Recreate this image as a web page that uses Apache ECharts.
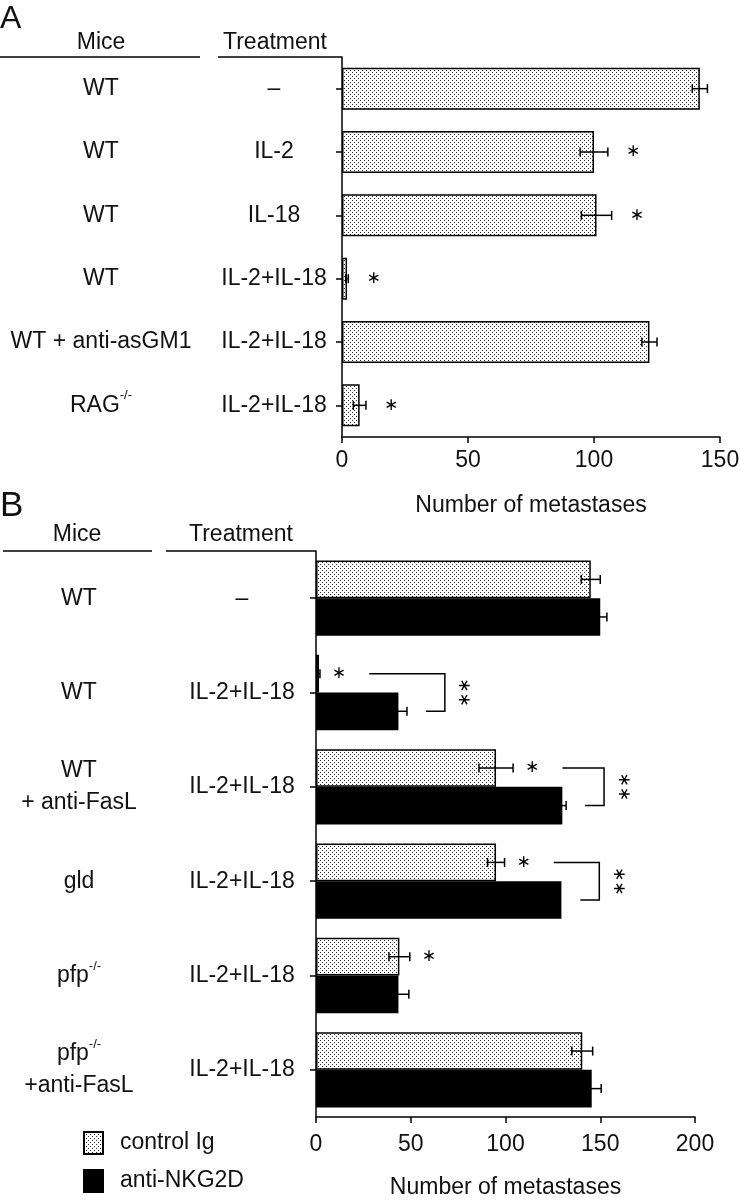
<!DOCTYPE html>
<html>
<head>
<meta charset="utf-8">
<script src="https://cdn.jsdelivr.net/npm/echarts@6/dist/echarts.min.js"></script>
<style>
html, body { margin: 0; padding: 0; background: #fff; }
#chart { width: 740px; height: 1200px; }
</style>
</head>
<body>
<div id="chart"></div>
<script>
// panel A
var miceA = ['WT', 'WT', 'WT', 'WT', 'WT + anti-asGM1', 'RAG{sup|-/-}'];
var treatA = ['\u2013', 'IL-2', 'IL-18', 'IL-2+IL-18', 'IL-2+IL-18', 'IL-2+IL-18'];
var metA = [142, 100, 101, 2, 122, 7];
var semA = [3, 5.5, 6, 0.5, 3, 2.5];
var starA = [0, 1, 1, 1, 0, 1];
var ticksA = [0, 50, 100, 150];

// panel B
var miceB = ['WT', 'WT', 'WT\n+ anti-FasL', 'gld', 'pfp{sup|-/-}', 'pfp{sup|-/-}\n+anti-FasL'];
var treatB = ['\u2013', 'IL-2+IL-18', 'IL-2+IL-18', 'IL-2+IL-18', 'IL-2+IL-18', 'IL-2+IL-18'];
var ctrlB = [145, 1.6, 95, 95, 44, 140.5];
var ctrlSemB = [5, 0.5, 9, 4.5, 5.5, 5.5];
var nkgB = [150, 43.5, 130, 129.5, 43.5, 145.5];
var nkgSemB = [3.5, 4.5, 2, 0, 5.5, 5];
var starB = [0, 1, 1, 1, 1, 0];
var pairB = [0, 1, 1, 1, 0, 0];
var ticksB = [0, 50, 100, 150, 200];

var FONT = '"Liberation Sans", Arial, sans-serif';
var INK = '#111';

// stipple fill
var dots = document.createElement('canvas');
dots.width = 4;
dots.height = 4;
var dc = dots.getContext('2d');
dc.fillStyle = '#fff';
dc.fillRect(0, 0, 4, 4);
dc.fillStyle = '#2a2a2a';
dc.fillRect(0, 0, 1, 1);
dc.fillRect(2, 2, 1, 1);
var stipple = { image: dots, repeat: 'repeat' };

var BAND_OFF = 0.199; // half bar width / band, panel B

function errRows(vals, sems) {
    var out = [];
    vals.forEach(function (v, i) {
        if (sems[i] > 0) out.push([v - sems[i], i, v + sems[i]]);
    });
    return out;
}

function starRows(vals, sems, flags) {
    var out = [];
    vals.forEach(function (v, i) {
        if (flags[i]) out.push([v + sems[i] + 10, i]);
    });
    return out;
}

function pairRows() {
    var out = [];
    pairB.forEach(function (f, i) {
        if (!f) return;
        var topStart = ctrlB[i] + ctrlSemB[i] + 26;
        var botStart = nkgB[i] + nkgSemB[i] + 10;
        var vert = Math.max(topStart, botStart) + 10;
        out.push([topStart, i, botStart, vert, vert + 10]);
    });
    return out;
}

function errorItem(frac) {
    return function (params, api) {
        var cat = api.value(1);
        var p1 = api.coord([api.value(0), cat]);
        var p2 = api.coord([api.value(2), cat]);
        var y = p1[1] + api.size([0, 1])[1] * frac;
        var h = 4.5;
        var st = { stroke: '#000', lineWidth: 1.5 };
        return {
            type: 'group',
            children: [
                { type: 'line', shape: { x1: p1[0], y1: y, x2: p2[0], y2: y }, style: st },
                { type: 'line', shape: { x1: p1[0], y1: y - h, x2: p1[0], y2: y + h }, style: st },
                { type: 'line', shape: { x1: p2[0], y1: y - h, x2: p2[0], y2: y + h }, style: st }
            ]
        };
    };
}

function starItem(frac) {
    return function (params, api) {
        var p = api.coord([api.value(0), api.value(1)]);
        return {
            type: 'text',
            x: p[0],
            y: p[1] + api.size([0, 1])[1] * frac,
            style: {
                text: '\u2217', fill: '#000', fontSize: 17,
                fontFamily: '"DejaVu Sans"', align: 'center', verticalAlign: 'middle'
            }
        };
    };
}

function pairItem(params, api) {
    var cat = api.value(1);
    var band = api.size([0, 1])[1];
    var c = api.coord([0, cat]);
    var yTop = c[1] - band * BAND_OFF;
    var yBot = c[1] + band * BAND_OFF;
    var xTop = api.coord([api.value(0), cat])[0];
    var xBot = api.coord([api.value(2), cat])[0];
    var xV = api.coord([api.value(3), cat])[0];
    var xS = api.coord([api.value(4), cat])[0];
    return {
        type: 'group',
        children: [
            {
                type: 'polyline',
                shape: { points: [[xTop, yTop], [xV, yTop], [xV, yBot], [xBot, yBot]] },
                style: { stroke: '#000', lineWidth: 1.5, fill: null }
            },
            {
                type: 'text', x: xS, y: c[1], rotation: -Math.PI / 2,
                style: {
                    text: '\u2217\u2217', fill: '#000', fontSize: 17,
                    fontFamily: '"DejaVu Sans"', align: 'center', verticalAlign: 'middle'
                }
            }
        ]
    };
}

var supStyle = { fontSize: 13, verticalAlign: 'top', fontFamily: FONT, color: INK };

function catAxis(grid, data, margin, line) {
    return {
        type: 'category',
        gridIndex: grid,
        position: 'left',
        inverse: true,
        data: data,
        axisLine: { show: line, lineStyle: { color: '#000', width: 1.5 } },
        axisTick: { show: line, alignWithLabel: true, length: 6, lineStyle: { color: '#000', width: 1.5 } },
        axisLabel: {
            margin: margin, align: 'center', fontSize: 23, lineHeight: 32,
            fontFamily: FONT, color: INK, rich: { sup: supStyle }
        }
    };
}

function valAxis(grid, ticks, gap, labelMargin) {
    return {
        type: 'value',
        gridIndex: grid,
        min: ticks[0],
        max: ticks[ticks.length - 1],
        interval: ticks[1] - ticks[0],
        name: 'Number of metastases',
        nameLocation: 'middle',
        nameGap: gap,
        nameTextStyle: { fontSize: 23, fontFamily: FONT, color: INK },
        splitLine: { show: false },
        axisLine: { show: true, lineStyle: { color: '#000', width: 1.5 } },
        axisTick: { show: true, length: 6, lineStyle: { color: '#000', width: 1.5 } },
        axisLabel: { margin: labelMargin, fontSize: 23, fontFamily: FONT, color: INK }
    };
}

var headTxt = { fontSize: 23, fontFamily: FONT, fill: INK, textAlign: 'center', textVerticalAlign: 'middle' };
function txt(x, y, s, extra) {
    return { type: 'text', x: x, y: y, style: Object.assign({ text: s }, headTxt, extra || {}) };
}
function hline(x1, x2, y) {
    return { type: 'line', shape: { x1: x1, y1: y, x2: x2, y2: y }, style: { stroke: '#000', lineWidth: 1.5 } };
}

var myChart = echarts.init(document.getElementById('chart'), null, { renderer: 'canvas' });
var option = {
    animation: false,
    backgroundColor: '#fff',
    grid: [
        { left: 342, top: 57, width: 378, height: 380, containLabel: false, outerBoundsMode: 'none' },
        { left: 316, top: 551, width: 379, height: 566, containLabel: false, outerBoundsMode: 'none' }
    ],
    xAxis: [valAxis(0, ticksA, 57, 12), valAxis(1, ticksB, 59, 16)],
    yAxis: [
        catAxis(0, treatA, 68, true),
        catAxis(0, miceA, 241, false),
        catAxis(1, treatB, 74, true),
        catAxis(1, miceB, 237, false)
    ],
    legend: {
        left: 83, top: 1131, orient: 'vertical', padding: 0,
        itemWidth: 19, itemHeight: 22, itemGap: 14,
        icon: 'rect',
        data: ['control Ig', 'anti-NKG2D'],
        textStyle: { fontSize: 23, fontFamily: FONT, color: INK, padding: [0, 0, 0, 12] }
    },
    graphic: [
        txt(0, 19, 'A', { fontSize: 32, textAlign: 'left' }),
        txt(101, 43, 'Mice'),
        txt(275, 43, 'Treatment'),
        hline(0, 200, 57),
        hline(218, 342, 57),
        txt(0, 506, 'B', { fontSize: 35, textAlign: 'left' }),
        txt(77, 535, 'Mice'),
        txt(241, 535, 'Treatment'),
        hline(3, 152, 551),
        hline(166, 316, 551)
    ],
    series: [
        {
            type: 'bar', xAxisIndex: 0, yAxisIndex: 0, data: metA, barWidth: 42,
            itemStyle: { color: stipple, borderColor: '#000', borderWidth: 1.5 }
        },
        { type: 'custom', xAxisIndex: 0, yAxisIndex: 0, renderItem: errorItem(0), data: errRows(metA, semA), z: 5 },
        { type: 'custom', xAxisIndex: 0, yAxisIndex: 0, renderItem: starItem(0), data: starRows(metA, semA, starA), z: 5 },
        {
            name: 'control Ig', type: 'bar', xAxisIndex: 1, yAxisIndex: 2, data: ctrlB,
            barWidth: 37.7, barGap: '0%',
            itemStyle: { color: stipple, borderColor: '#000', borderWidth: 1.5 }
        },
        {
            name: 'anti-NKG2D', type: 'bar', xAxisIndex: 1, yAxisIndex: 2, data: nkgB,
            barWidth: 37.7, barGap: '0%',
            itemStyle: { color: '#000', borderColor: '#000', borderWidth: 1.5 }
        },
        { type: 'custom', xAxisIndex: 1, yAxisIndex: 2, renderItem: errorItem(-BAND_OFF), data: errRows(ctrlB, ctrlSemB), z: 5 },
        { type: 'custom', xAxisIndex: 1, yAxisIndex: 2, renderItem: errorItem(BAND_OFF), data: errRows(nkgB, nkgSemB), z: 5 },
        { type: 'custom', xAxisIndex: 1, yAxisIndex: 2, renderItem: starItem(-BAND_OFF), data: starRows(ctrlB, ctrlSemB, starB), z: 5 },
        { type: 'custom', xAxisIndex: 1, yAxisIndex: 2, renderItem: pairItem, data: pairRows(), z: 5 }
    ]
};
myChart.setOption(option);
</script>
</body>
</html>
